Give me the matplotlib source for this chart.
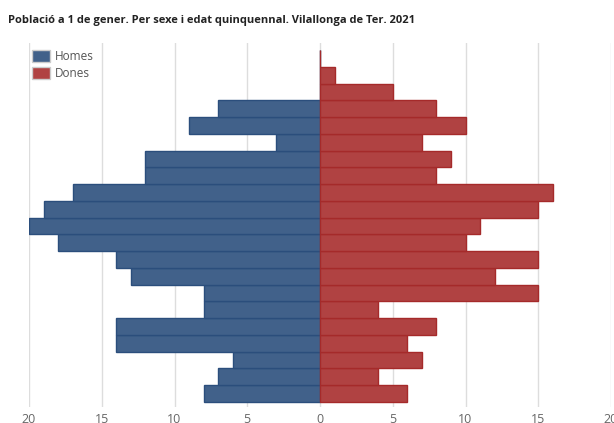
import matplotlib
matplotlib.use("Agg")
import matplotlib.pyplot as plt
import numpy as np

ages = ["0-4", "5-9", "10-14", "15-19", "20-24", "25-29", "30-34", "35-39",
        "40-44", "45-49", "50-54", "55-59", "60-64", "65-69", "70-74", "75-79",
        "80-84", "85-89", "90-94", "95-99", "100 i més"]
homes = [8, 7, 6, 14, 14, 8, 8, 13, 14, 18, 20, 19, 17, 12, 12, 3, 9, 7, 0, 0, 0]
dones = [6, 4, 7, 6, 8, 4, 15, 12, 15, 10, 11, 15, 16, 8, 9, 7, 10, 8, 5, 1, 0]
xticks = [-20, -15, -10, -5, 0, 5, 10, 15, 20]
title = "Població a 1 de gener. Per sexe i edat quinquennal. Vilallonga de Ter. 2021"

plt.rcParams['font.family'] = ['Open Sans', 'DejaVu Sans']

fig = plt.figure(figsize=(6.14, 4.23), dpi=100)
ax = fig.add_axes([29/614, (423-407)/423, (611-29)/614, (407-43)/423])

y = np.arange(len(ages))
ax.barh(y, [-h for h in homes], height=1.0, color="#41618a", edgecolor="#2b4e7c",
        linewidth=1.0, label="Homes", zorder=3)
ax.barh(y, dones, height=1.0, color="#b04242", edgecolor="#a52a2a",
        linewidth=1.0, label="Dones", zorder=3)

ax.set_xlim(-20, 20)
ax.set_ylim(-0.8, 20.92)
ax.set_xticks(xticks)
ax.set_xticklabels([str(abs(t)) for t in xticks])
ax.set_yticks([])
ax.grid(axis="x", color="#dddddd", linewidth=1.0, zorder=0)
for s in ax.spines.values():
    s.set_visible(False)
ax.tick_params(axis="x", length=0, labelsize=9, labelcolor="#666666", pad=4)

leg = ax.legend(loc="upper left", bbox_to_anchor=(0.0, 1.0 - 4/364), frameon=False,
                fontsize=8.5, handlelength=1.5, handleheight=1.1, handletextpad=0.4,
                labelspacing=0.35, borderaxespad=0.0, borderpad=0.25,
                labelcolor="#555555")
for p in leg.get_patches():
    p.set_edgecolor("#cccccc")
    p.set_linewidth(1.0)

fig.text(8/614, 1 - 20/423, title, fontsize=8.0, fontweight="bold", color="#222222",
         ha="left", va="center")

fig.savefig("out.png", dpi=100)
